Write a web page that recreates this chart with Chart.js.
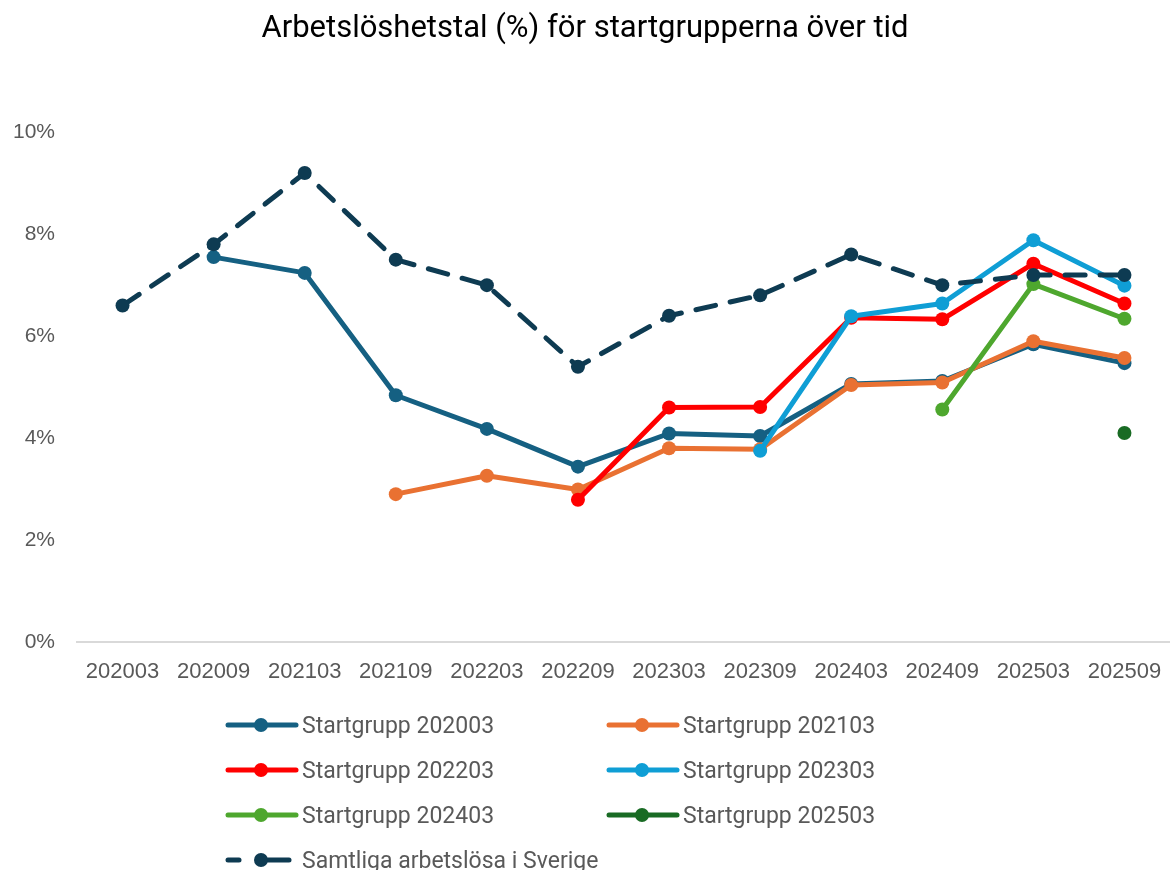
<!DOCTYPE html>
<html>
<head>
<meta charset="utf-8">
<script src="https://cdn.jsdelivr.net/npm/chart.js@4/dist/chart.umd.min.js"></script>
<style>
  body { margin: 0; background: #fff; }
  .wrap { position: relative; width: 1170px; height: 870px; }
  .legend { position: absolute; left: 225px; top: 710px; font-family: Roboto, sans-serif; font-size: 23px; color: #595959; }
  .legend .item { position: absolute; display: flex; align-items: center; white-space: nowrap; height: 30px; }
  .legend svg { margin-right: 3px; }
</style>
</head>
<body>
<div class="wrap">
  <canvas id="chart" width="1170" height="870"></canvas>
  <div class="legend" id="legend"></div>
</div>
<script>
const labels = ['202003', '202009', '202103', '202109', '202203', '202209', '202303', '202309', '202403', '202409', '202503', '202509'];

const sg202003 = [null, 7.55, 7.24, 4.84, 4.18, 3.44, 4.09, 4.04, 5.06, 5.12, 5.84, 5.47];
const sg202103 = [null, null, null, 2.90, 3.26, 2.99, 3.80, 3.78, 5.04, 5.09, 5.90, 5.57];
const sg202203 = [null, null, null, null, null, 2.79, 4.60, 4.61, 6.36, 6.33, 7.42, 6.64];
const sg202303 = [null, null, null, null, null, null, null, 3.75, 6.39, 6.64, 7.88, 6.99];
const sg202403 = [null, null, null, null, null, null, null, null, null, 4.56, 7.02, 6.34];
const sg202503 = [null, null, null, null, null, null, null, null, null, null, null, 4.10];
const samtliga = [6.6, 7.8, 9.2, 7.5, 7.0, 5.4, 6.4, 6.8, 7.6, 7.0, 7.2, 7.2];

const yTicks = [0, 2, 4, 6, 8, 10];

function series(label, data, color, i, dashed) {
    return {
        label: label,
        data: data,
        borderColor: color,
        backgroundColor: color,
        pointBackgroundColor: color,
        pointBorderWidth: 0,
        pointRadius: 7,
        borderWidth: 5,
        borderDash: dashed ? [20, 15] : [],
        borderCapStyle: 'round',
        borderJoinStyle: 'round',
        spanGaps: false,
        order: 10 - i,
        dashed: !!dashed,
    };
}

const datasets = [
    series('Startgrupp 202003', sg202003, '#156082', 0),
    series('Startgrupp 202103', sg202103, '#E97132', 1),
    series('Startgrupp 202203', sg202203, '#FF0000', 2),
    series('Startgrupp 202303', sg202303, '#0F9ED5', 3),
    series('Startgrupp 202403', sg202403, '#4EA72E', 4),
    series('Startgrupp 202503', sg202503, '#196B24', 5),
    series('Samtliga arbetslösa i Sverige', samtliga, '#0E3B52', 6, true),
];

const ctx = document.getElementById('chart').getContext('2d');
const chart = new Chart(ctx, {
    type: 'line',
    data: { labels: labels, datasets: datasets },
    options: {
        responsive: false,
        animation: false,
        layout: { autoPadding: false, padding: { left: 0, right: 0, top: 0, bottom: 0 } },
        plugins: {
            legend: { display: false },
            tooltip: { enabled: false },
            title: {
                display: true,
                text: 'Arbetslöshetstal (%) för startgrupperna över tid',
                color: '#000000',
                font: { family: 'Roboto', size: 31, weight: 'normal' },
                padding: { top: 11, bottom: 84 },
            },
        },
        scales: {
            x: {
                offset: true,
                grid: { display: false, drawTicks: false },
                border: { display: true, color: '#D9D9D9', width: 2 },
                ticks: {
                    color: '#595959',
                    font: { family: 'Liberation Sans', size: 22 },
                    padding: 17,
                    maxRotation: 0,
                    autoSkip: false,
                },
                afterFit: scale => {
                    scale.height = 228;
                    scale.paddingLeft = 0;
                    scale.paddingRight = 0;
                },
            },
            y: {
                min: 0,
                max: 10,
                grid: { display: false, drawTicks: false },
                border: { display: false },
                afterBuildTicks: scale => { scale.ticks = yTicks.map(v => ({ value: v })); },
                ticks: {
                    color: '#595959',
                    font: { family: 'Liberation Sans', size: 21 },
                    padding: 22,
                    callback: v => v + '%',
                },
                afterFit: scale => { scale.width = 77; },
            },
        },
    },
});

// legend built from the datasets, two columns like the original
const legendEl = document.getElementById('legend');
datasets.forEach((ds, i) => {
    const col = i % 2;
    const row = Math.floor(i / 2);
    const item = document.createElement('div');
    item.className = 'item';
    item.style.left = (col * 381) + 'px';
    item.style.top = (row * 45) + 'px';
    const line = ds.dashed
        ? `<line x1="3" y1="15" x2="14" y2="15" stroke="${ds.borderColor}" stroke-width="5" stroke-linecap="round"/>
           <line x1="43" y1="15" x2="64" y2="15" stroke="${ds.borderColor}" stroke-width="5" stroke-linecap="round"/>`
        : `<line x1="3" y1="15" x2="71" y2="15" stroke="${ds.borderColor}" stroke-width="5" stroke-linecap="round"/>`;
    item.innerHTML = `<svg width="74" height="30">${line}<circle cx="36" cy="15" r="7" fill="${ds.borderColor}"/></svg><span>${ds.label}</span>`;
    legendEl.appendChild(item);
});
</script>
</body>
</html>
